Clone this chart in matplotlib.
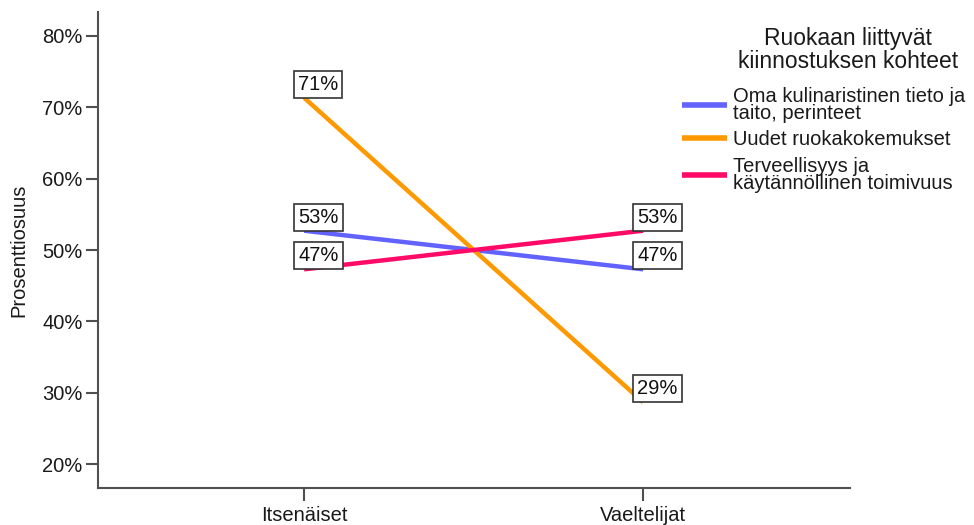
import matplotlib
matplotlib.use("Agg")
import matplotlib.pyplot as plt
from matplotlib.ticker import FuncFormatter

plt.rcParams["font.family"] = ["Liberation Sans", "DejaVu Sans"]

# Categories on the x axis
groups = ["Itsenäiset", "Vaeltelijat"]

# Share (%) of each interest target within each group
series_names = [
    "Oma kulinaristinen tieto ja\ntaito, perinteet",
    "Uudet ruokakokemukset",
    "Terveellisyys ja\nkäytännöllinen toimivuus",
]
oma_tieto = [52.7, 47.3]
uudet_kokemukset = [71.3, 28.7]
terveellisyys = [47.3, 52.7]
series_values = [oma_tieto, uudet_kokemukset, terveellisyys]
series_colors = ["#6262FF", "#FF9900", "#FF0A66"]

legend_title = "Ruokaan liittyvät\nkiinnostuksen kohteet"
y_label = "Prosenttiosuus"
y_ticks = [20, 30, 40, 50, 60, 70, 80]

axis_color = "#505050"
fs = 14.5

fig = plt.figure(figsize=(9.74, 5.25), dpi=100)
ax = fig.add_axes([98 / 974, 1 - 488 / 525, (850 - 98) / 974, (488 - 12) / 525])

x = list(range(len(groups)))
handles = []
for name, vals, col in zip(series_names, series_values, series_colors):
    (ln,) = ax.plot(x, vals, color=col, lw=3.2, solid_capstyle="butt", label=name, zorder=2)
    handles.append(ln)
    for xi, v in zip(x, vals):
        ax.annotate(
            f"{v:.0f}%", xy=(xi, v), xytext=(-6, 4), textcoords="offset pixels",
            ha="left", va="bottom", fontsize=fs, color="#111111", zorder=4,
            bbox=dict(boxstyle="square,pad=0.2", fc="white", ec="#333333", lw=1.2),
        )

ax.set_xlim(-0.608, 1.61)
ax.set_ylim(16.7, 83.3)
ax.set_xticks(x)
ax.set_xticklabels(groups)
ax.set_yticks(y_ticks)
ax.yaxis.set_major_formatter(FuncFormatter(lambda v, p: f"{v:.0f}%"))

for side in ["top", "right"]:
    ax.spines[side].set_visible(False)
for side in ["left", "bottom"]:
    ax.spines[side].set_color(axis_color)
    ax.spines[side].set_linewidth(1.5)
ax.tick_params(axis="both", length=9, width=1.5, color=axis_color,
               labelsize=fs, labelcolor="#1a1a1a")
ax.tick_params(axis="y", pad=2)
ax.tick_params(axis="x", pad=4)
ax.set_ylabel(y_label, fontsize=fs, color="#1a1a1a")
ax.yaxis.set_label_coords(-70 / 752, 0.5)

fig.text(848 / 974, 1 - 50 / 525, legend_title, ha="center", va="center",
         fontsize=16.5, color="#1a1a1a", linespacing=1.0)

leg = fig.legend(handles=handles, loc="upper left", bbox_to_anchor=(682 / 974, 1 - 87 / 525),
                 frameon=False, fontsize=fs, handlelength=2.25, handletextpad=0.3,
                 labelspacing=0.38, borderaxespad=0, borderpad=0)
for t in leg.get_texts():
    t.set_linespacing(0.85)
    t.set_color("#1a1a1a")
for h in leg.legend_handles:
    h.set_linewidth(4)

fig.savefig("out.png", dpi=100)
